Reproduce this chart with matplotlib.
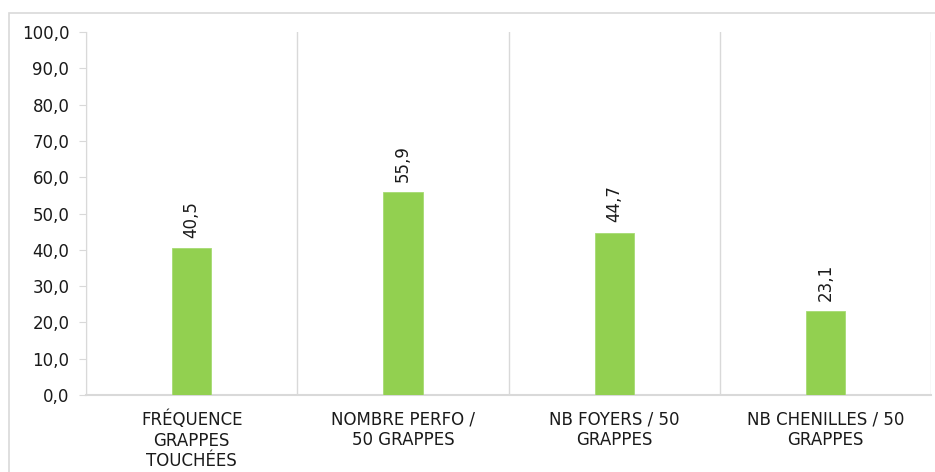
import matplotlib.pyplot as plt
import matplotlib.ticker as mticker
from matplotlib.patches import Rectangle

plt.rcParams['font.family'] = ['DejaVu Sans']

categories = ['FRÉQUENCE\nGRAPPES\nTOUCHÉES', 'NOMBRE PERFO /\n50 GRAPPES',
              'NB FOYERS / 50\nGRAPPES', 'NB CHENILLES / 50\nGRAPPES']
values = [40.5, 55.9, 44.7, 23.1]

vert = '#92D050'
gris = '#D9D9D9'
texte = '#1A1A1A'

fig = plt.figure(figsize=(9.35, 4.72), dpi=100)
ax = fig.add_axes([0.092, 0.163, 0.904, 0.769])

# cadre autour du graphique
fig.patches.append(Rectangle((9 / 935, -0.05), 1.0, 1 - 13 / 472 + 0.05,
                             transform=fig.transFigure, fill=False,
                             edgecolor=gris, linewidth=1.2))

x = range(len(categories))
bars = ax.bar(x, values, width=0.185, color=vert, edgecolor='#A6DA73', linewidth=0.6, zorder=3)

for b, v in zip(bars, values):
    ax.annotate(f'{v:.1f}'.replace('.', ','), (b.get_x() + b.get_width() / 2, v),
                xytext=(0, 7.5), textcoords='offset points', rotation=90,
                ha='center', va='bottom', fontsize=12, color=texte)

ax.set_xlim(-0.5, len(categories) - 0.5)
ax.set_ylim(0, 100)
ax.yaxis.set_major_locator(mticker.MultipleLocator(10))
ax.yaxis.set_major_formatter(mticker.FuncFormatter(lambda v, p: f'{v:.1f}'.replace('.', ',')))

# séparateurs verticaux entre catégories
ax.set_xticks([i + 0.5 for i in range(-1, len(categories))], minor=True)
ax.grid(axis='x', which='minor', color=gris, linewidth=1, zorder=0)
ax.set_xticks(list(x))
ax.set_xticklabels(categories, fontsize=12, color=texte, linespacing=1.2)
ax.tick_params(axis='x', which='both', length=0, pad=11)
ax.tick_params(axis='y', length=5, color=gris, labelsize=12, labelcolor=texte, pad=7)

for s in ['top', 'right']:
    ax.spines[s].set_visible(False)
ax.spines['left'].set_color(gris)
ax.spines['bottom'].set_color(gris)
ax.spines['bottom'].set_linewidth(1.5)

fig.savefig('out.png', dpi=100)
